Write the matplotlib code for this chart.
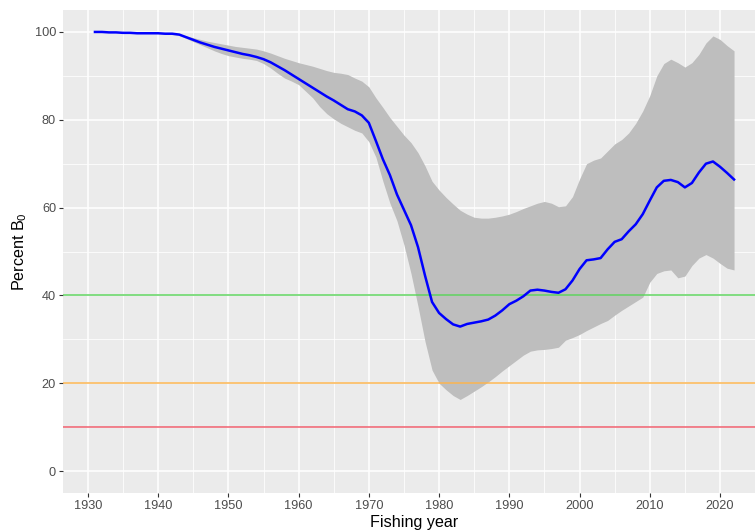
import numpy as np
import matplotlib
matplotlib.use("Agg")
import matplotlib.pyplot as plt
from matplotlib.ticker import MultipleLocator

plt.rcParams['font.family'] = ['Liberation Sans', 'DejaVu Sans']
plt.rcParams['mathtext.fontset'] = 'custom'
plt.rcParams['mathtext.rm'] = 'Liberation Sans'
plt.rcParams['mathtext.it'] = 'Liberation Sans:italic'

years = list(range(1931, 2023))

median_b0 = [
    100.0, 100.0, 99.9, 99.9, 99.8, 99.8, 99.7, 99.7, 99.7, 99.7,   # 1931-1940
    99.6, 99.6, 99.4, 98.8, 98.2, 97.6, 97.1, 96.6, 96.2, 95.8,     # 1941-1950
    95.4, 95.0, 94.7, 94.3, 93.8, 93.1, 92.2, 91.3, 90.3, 89.3,     # 1951-1960
    88.3, 87.3, 86.3, 85.3, 84.4, 83.4, 82.4, 81.9, 81.0, 79.3,     # 1961-1970
    75.2, 71.0, 67.4, 63.0, 59.5, 56.0, 51.0, 44.5, 38.5, 36.0,     # 1971-1980
    34.6, 33.4, 32.9, 33.5, 33.8, 34.1, 34.5, 35.4, 36.6, 38.0,     # 1981-1990
    38.8, 39.8, 41.1, 41.3, 41.1, 40.8, 40.6, 41.4, 43.4, 46.0,     # 1991-2000
    48.0, 48.2, 48.5, 50.5, 52.2, 52.8, 54.6, 56.2, 58.5, 61.6,     # 2001-2010
    64.6, 66.1, 66.3, 65.8, 64.6, 65.6, 68.0, 70.0, 70.5, 69.3,     # 2011-2020
    67.9, 66.4,                                                     # 2021-2022
]

upper_b0 = [
    100.0, 100.0, 99.9, 99.9, 99.8, 99.8, 99.7, 99.7, 99.7, 99.7,
    99.7, 99.7, 99.6, 99.1, 98.7, 98.3, 97.9, 97.6, 97.3, 97.0,
    96.7, 96.5, 96.3, 96.1, 95.7, 95.2, 94.6, 94.0, 93.5, 93.0,
    92.6, 92.2, 91.7, 91.2, 90.8, 90.6, 90.3, 89.5, 88.8, 87.5,
    85.0, 82.8, 80.5, 78.5, 76.5, 74.8, 72.5, 69.5, 66.0, 64.0,
    62.3, 60.8, 59.4, 58.5, 57.8, 57.6, 57.6, 57.8, 58.1, 58.5,
    59.1, 59.8, 60.4, 61.0, 61.4, 61.0, 60.2, 60.4, 62.5, 66.5,
    70.0, 70.8, 71.3, 72.9, 74.5, 75.5, 77.0, 79.2, 82.0, 85.5,
    90.0, 92.8, 93.8, 93.0, 92.0, 93.0, 94.9, 97.5, 99.1, 98.3,
    96.9, 95.7,
]

lower_b0 = [
    100.0, 100.0, 99.9, 99.9, 99.8, 99.8, 99.7, 99.7, 99.7, 99.7,
    99.5, 99.4, 99.2, 98.5, 97.8, 97.1, 96.4, 95.7, 95.1, 94.6,
    94.3, 94.0, 93.8, 93.5, 92.8, 91.8, 90.6, 89.5, 88.8, 88.0,
    86.5, 85.0, 83.0, 81.4, 80.2, 79.2, 78.4, 77.6, 77.0, 75.0,
    71.5, 66.0, 61.0, 57.0, 51.5, 45.0, 37.5, 29.5, 23.0, 20.0,
    18.5, 17.2, 16.3, 17.2, 18.2, 19.2, 20.3, 21.5, 22.8, 24.0,
    25.2, 26.4, 27.3, 27.6, 27.7, 27.9, 28.2, 29.8, 30.4, 31.1,
    32.0, 32.8, 33.6, 34.3, 35.5, 36.6, 37.6, 38.6, 39.6, 43.0,
    45.0, 45.6, 45.8, 44.0, 44.4, 46.8, 48.5, 49.3, 48.5, 47.3,
    46.2, 45.8,
]

reference_levels = [40, 20, 10]
reference_colors = ['#5fd35f', '#fbb450', '#f0606e']

x_ticks = [1930, 1940, 1950, 1960, 1970, 1980, 1990, 2000, 2010, 2020]
y_ticks = [0, 20, 40, 60, 80, 100]

W, H = 755, 532
fig = plt.figure(figsize=(W / 100, H / 100), dpi=100)
ax = fig.add_axes([63 / W, (H - 493) / H, (766 - 63) / W, (493 - 10) / H])

ax.set_facecolor('#ebebeb')
for s in ax.spines.values():
    s.set_visible(False)

ax.set_xlim(1926.45, 2026.55)
ax.set_ylim(-5, 105)
ax.set_xticks(x_ticks)
ax.set_yticks(y_ticks)
ax.xaxis.set_minor_locator(MultipleLocator(5))
ax.yaxis.set_minor_locator(MultipleLocator(10))
ax.grid(which='major', color='white', linewidth=1.1)
ax.grid(which='minor', color='white', linewidth=0.55)
ax.set_axisbelow(True)
ax.tick_params(which='major', length=3, width=0.8, color='#333333',
               labelcolor='#4d4d4d', labelsize=9.2, pad=2)
ax.tick_params(which='minor', length=0)

ax.fill_between(years, lower_b0, upper_b0, color='#bebebe', linewidth=0, zorder=2)
for lvl, col in zip(reference_levels, reference_colors):
    ax.axhline(lvl, color=col, linewidth=1.1, zorder=3)
ax.plot(years, median_b0, color='#0000ff', linewidth=1.8, zorder=4)

ax.set_xlabel('Fishing year', fontsize=11.6, color='black', labelpad=2)
ax.set_ylabel(r'Percent B$_\mathrm{0}$', fontsize=11.6, color='black', labelpad=4)

fig.savefig('out.png', dpi=100, facecolor='white')
